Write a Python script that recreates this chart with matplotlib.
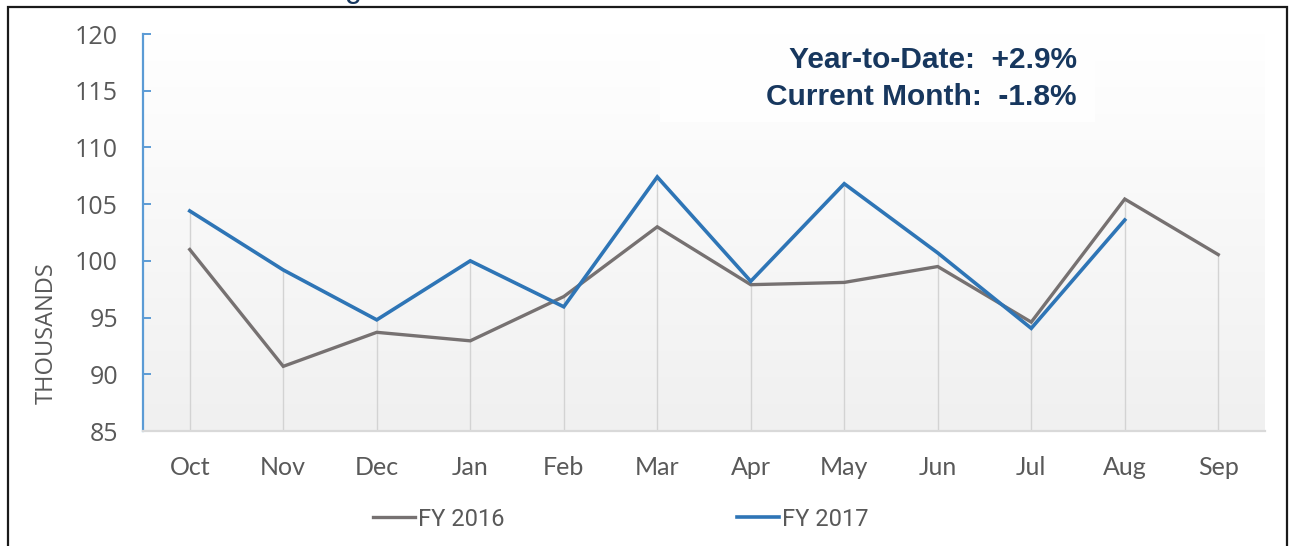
import numpy as np
import matplotlib
matplotlib.use("Agg")
import matplotlib.pyplot as plt
from matplotlib.lines import Line2D
from matplotlib.patches import Rectangle

months = ["Oct", "Nov", "Dec", "Jan", "Feb", "Mar", "Apr", "May", "Jun", "Jul", "Aug", "Sep"]
fy2016 = [101.0, 90.7, 93.7, 92.95, 96.85, 103.0, 97.9, 98.1, 99.5, 94.6, 105.45, 100.55]
fy2017 = [104.4, 99.2, 94.8, 100.0, 95.95, 107.4, 98.2, 106.8, 100.7, 94.05, 103.6]
yticks = [85, 90, 95, 100, 105, 110, 115, 120]
label_2016 = "FY 2016"
label_2017 = "FY 2017"
ytd_text = "Year-to-Date:  +2.9%"
cm_text = "Current Month:  -1.8%"

W, H = 1289, 546
fig = plt.figure(figsize=(W / 100, H / 100), dpi=100)
fig.patch.set_facecolor("white")

def fx(px):
    return px / W

def fy(py):
    return 1 - py / H

ax_left, ax_right, ax_top, ax_bot = 143, 1265, 34, 431
ax = fig.add_axes([fx(ax_left), fy(ax_bot), (ax_right - ax_left) / W, (ax_bot - ax_top) / H])

x16 = np.arange(len(fy2016))
x17 = np.arange(len(fy2017))

ax.set_xlim(-0.5, len(months) - 0.5)
ax.set_ylim(85, 120)

# gradient background
grad = np.linspace(1.0, 0.0, 256).reshape(-1, 1)
top_c = np.array([1.0, 1.0, 1.0])
bot_c = np.array([0xF0, 0xF0, 0xF0]) / 255
img = bot_c + (top_c - bot_c) * grad[..., None] * np.ones((1, 1, 3))
ax.imshow(img, extent=[-0.5, len(months) - 0.5, 85, 120], aspect="auto", zorder=0, interpolation="bicubic")

# white box behind text
ax.add_patch(Rectangle((fx(660), fy(122)), fx(1095) - fx(660), fy(34) - fy(122),
                       transform=fig.transFigure, facecolor="white", edgecolor="none",
                       alpha=0.85, zorder=0.5))

# drop lines
tops = []
for i in range(len(months)):
    vals = [fy2016[i]]
    if i < len(fy2017):
        vals.append(fy2017[i])
    tops.append(max(vals))
ax.vlines(np.arange(len(months)), 85, tops, color="#D3D3D3", lw=1.0, zorder=1)

ax.plot(x16, fy2016, color="#767171", lw=2.4, zorder=3, solid_joinstyle="miter", label=label_2016)
ax.plot(x17, fy2017, color="#2E75B6", lw=2.6, zorder=4, solid_joinstyle="miter", label=label_2017)

for s in ["top", "right"]:
    ax.spines[s].set_visible(False)
ax.spines["left"].set_color("#5B9BD5")
ax.spines["left"].set_linewidth(1.6)
ax.spines["bottom"].set_color("#D9D9D9")
ax.spines["bottom"].set_linewidth(1.6)

ax.set_yticks(yticks)
ax.set_yticklabels([str(v) for v in yticks])
ax.set_xticks(np.arange(len(months)))
ax.set_xticklabels(months)
ax.tick_params(axis="y", direction="in", length=6, width=1.4, color="#5B9BD5",
               pad=18, labelsize=18, labelcolor="#595959")
ax.tick_params(axis="x", length=0, pad=18, labelsize=18, labelcolor="#595959")
for lab in ax.get_yticklabels():
    lab.set_fontfamily("Open Sans")
for lab in ax.get_xticklabels():
    lab.set_fontfamily("Lato")

fig.text(fx(47), fy(333), "THOUSANDS", rotation=90, ha="center", va="center",
         fontsize=17, color="#595959", family="Open Sans")

# text box
fig.text(fx(1077), fy(68), ytd_text, ha="right", va="baseline", fontsize=21.5,
         fontweight="bold", color="#17375E", family="Liberation Sans")
fig.text(fx(1077), fy(105), cm_text, ha="right", va="baseline", fontsize=21.5,
         fontweight="bold", color="#17375E", family="Liberation Sans")

# partial title fragment at top
fig.text(fx(345), fy(-3), "g", ha="left", va="baseline", fontsize=22,
         color="#17375E", family="Liberation Sans")

# legends
h16 = Line2D([], [], color="#767171", lw=2.4)
h17 = Line2D([], [], color="#2E75B6", lw=2.6)
leg_kw = dict(frameon=False, handlelength=1.8, handletextpad=0.1, borderpad=0,
              prop={"family": "Roboto", "size": 17}, labelcolor="#595959",
              loc="center left")
l1 = fig.legend([h16], [label_2016], bbox_to_anchor=(fx(361), fy(519)), **leg_kw)
l2 = fig.legend([h17], [label_2017], bbox_to_anchor=(fx(725), fy(519)), **leg_kw)

# outer border
fig.patches.append(Rectangle((fx(8), fy(600)), fx(1287) - fx(8), fy(7) - fy(600),
                             transform=fig.transFigure, fill=False, edgecolor="#1A1A1A",
                             lw=1.6, clip_on=False))

fig.savefig("out.png", dpi=100)
